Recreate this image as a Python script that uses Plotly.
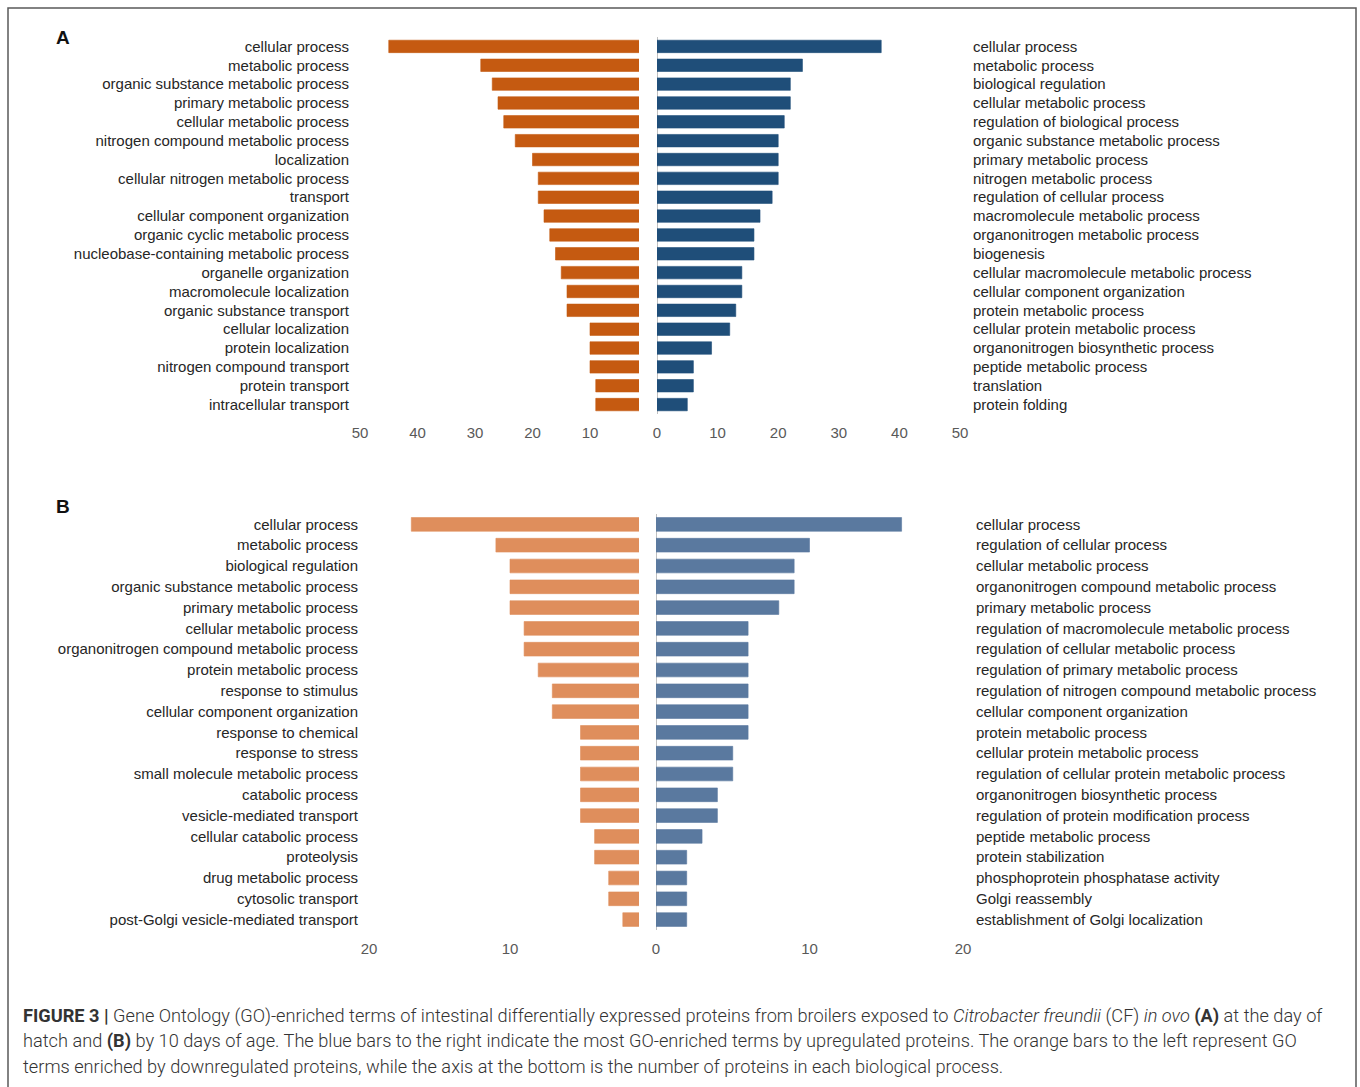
import plotly.graph_objects as go

W, H = 1360, 1087

# ---------------- data ----------------
a_down_terms = ["cellular process", "metabolic process", "organic substance metabolic process",
                "primary metabolic process", "cellular metabolic process",
                "nitrogen compound metabolic process", "localization",
                "cellular nitrogen metabolic process", "transport", "cellular component organization",
                "organic cyclic metabolic process", "nucleobase-containing metabolic process",
                "organelle organization", "macromolecule localization", "organic substance transport",
                "cellular localization", "protein localization", "nitrogen compound transport",
                "protein transport", "intracellular transport"]
a_down_vals = [45, 29, 27, 26, 25, 23, 20, 19, 19, 18, 17, 16, 15, 14, 14, 10, 10, 10, 9, 9]

a_up_terms = ["cellular process", "metabolic process", "biological regulation",
              "cellular metabolic process", "regulation of biological process",
              "organic substance metabolic process", "primary metabolic process",
              "nitrogen metabolic process", "regulation of cellular process",
              "macromolecule metabolic process", "organonitrogen metabolic process", "biogenesis",
              "cellular macromolecule metabolic process", "cellular component organization",
              "protein metabolic process", "cellular protein metabolic process",
              "organonitrogen biosynthetic process", "peptide metabolic process", "translation",
              "protein folding"]
a_up_vals = [37, 24, 22, 22, 21, 20, 20, 20, 19, 17, 16, 16, 14, 14, 13, 12, 9, 6, 6, 5]

b_down_terms = ["cellular process", "metabolic process", "biological regulation",
                "organic substance metabolic process", "primary metabolic process",
                "cellular metabolic process", "organonitrogen compound metabolic process",
                "protein metabolic process", "response to stimulus", "cellular component organization",
                "response to chemical", "response to stress", "small molecule metabolic process",
                "catabolic process", "vesicle-mediated transport", "cellular catabolic process",
                "proteolysis", "drug metabolic process", "cytosolic transport",
                "post-Golgi vesicle-mediated transport"]
b_down_vals = [17, 11, 10, 10, 10, 9, 9, 8, 7, 7, 5, 5, 5, 5, 5, 4, 4, 3, 3, 2]

b_up_terms = ["cellular process", "regulation of cellular process", "cellular metabolic process",
              "organonitrogen compound metabolic process", "primary metabolic process",
              "regulation of macromolecule metabolic process", "regulation of cellular metabolic process",
              "regulation of primary metabolic process", "regulation of nitrogen compound metabolic process",
              "cellular component organization", "protein metabolic process",
              "cellular protein metabolic process", "regulation of cellular protein metabolic process",
              "organonitrogen biosynthetic process", "regulation of protein modification process",
              "peptide metabolic process", "protein stabilization", "phosphoprotein phosphatase activity",
              "Golgi reassembly", "establishment of Golgi localization"]
b_up_vals = [16, 10, 9, 9, 8, 6, 6, 6, 6, 6, 6, 5, 5, 4, 4, 3, 2, 2, 2, 2]

a_left_ticks = [50, 40, 30, 20, 10]
a_right_ticks = [0, 10, 20, 30, 40, 50]
b_left_ticks = [20, 10]
b_right_ticks = [0, 10, 20]

caption_lines = [
    "<b>FIGURE 3 |</b> Gene Ontology (GO)-enriched terms of intestinal differentially expressed proteins "
    "from broilers exposed to <i>Citrobacter freundii</i> (CF) <i>in ovo</i> <b>(A)</b> at the day of",
    "hatch and <b>(B)</b> by 10 days of age. The blue bars to the right indicate the most GO-enriched terms "
    "by upregulated proteins. The orange bars to the left represent GO",
    "terms enriched by downregulated proteins, while the axis at the bottom is the number of proteins "
    "in each biological process.",
]

# ---------------- style ----------------
C_A_DOWN = "#C55A11"
C_A_UP = "#1F4E79"
C_B_DOWN = "#DF8E5C"
C_B_UP = "#5A799F"
FONT = "Liberation Sans, Arial, sans-serif"


def px_x(p):
    return p / W


def px_y(p):
    return 1 - p / H


fig = go.Figure()

panels = [
    (a_down_terms, a_down_vals, C_A_DOWN, "x", "y"),
    (a_up_terms, a_up_vals, C_A_UP, "x2", "y2"),
    (b_down_terms, b_down_vals, C_B_DOWN, "x3", "y3"),
    (b_up_terms, b_up_vals, C_B_UP, "x4", "y4"),
]
for terms, vals, col, xa, ya in panels:
    fig.add_trace(go.Bar(
        y=terms, x=vals, orientation="h", xaxis=xa, yaxis=ya,
        marker=dict(color=col, line=dict(color=col, width=0.6)),
        showlegend=False, hoverinfo="x+y",
    ))

tickfont_x = dict(family=FONT, size=15, color="#595959")
tickfont_y = dict(family=FONT, size=15, color="#262626")

A_Y = [px_y(414), px_y(37)]
B_Y = [px_y(930), px_y(514)]

xcommon = dict(showgrid=False, showline=False, ticks="", tickfont=tickfont_x,
               ticklabelstandoff=8, fixedrange=True, automargin=False)
ycommon = dict(showgrid=False, ticks="", tickfont=tickfont_y, fixedrange=True,
               automargin=False, autorange="reversed", categoryorder="array")

# Left-hand (down-regulated) axes: the zero of the value scale sits just right of the
# plotting area, so the bars stop a little short of it, as in the original figure.
A_L_SCALE = (590 - 360) / 40.0      # px per protein
A_L_RIGHT = 50 - (639 - 360) / A_L_SCALE
B_L_SCALE = (510 - 369) / 10.0
B_L_RIGHT = 20 - (639 - 369) / B_L_SCALE

layout = dict(
    template="none",
    width=W, height=H, autosize=False,
    margin=dict(l=0, r=0, t=0, b=0, pad=0, autoexpand=False),
    paper_bgcolor="white", plot_bgcolor="rgba(0,0,0,0)",
    bargap=0.34,
    xaxis=dict(domain=[px_x(360), px_x(639)], range=[50, A_L_RIGHT], anchor="y",
               tickvals=a_left_ticks, zeroline=False, **xcommon),
    xaxis2=dict(domain=[px_x(657), px_x(960)], range=[0, 50], anchor="y2",
                tickvals=a_right_ticks, zeroline=True, zerolinecolor="#BFBFBF",
                zerolinewidth=1, **xcommon),
    xaxis3=dict(domain=[px_x(369), px_x(639)], range=[20, B_L_RIGHT], anchor="y3",
                tickvals=b_left_ticks, zeroline=False, **xcommon),
    xaxis4=dict(domain=[px_x(656), px_x(963)], range=[0, 20], anchor="y4",
                tickvals=b_right_ticks, zeroline=True, zerolinecolor="#BFBFBF",
                zerolinewidth=1, **xcommon),
    yaxis=dict(domain=A_Y, anchor="x", categoryarray=a_down_terms,
               side="left", ticklabelstandoff=10, **ycommon),
    yaxis2=dict(domain=A_Y, anchor="x2", categoryarray=a_up_terms,
                side="right", ticklabelstandoff=12, **ycommon),
    yaxis3=dict(domain=B_Y, anchor="x3", categoryarray=b_down_terms,
                side="left", ticklabelstandoff=10, **ycommon),
    yaxis4=dict(domain=B_Y, anchor="x4", categoryarray=b_up_terms,
                side="right", ticklabelstandoff=12, **ycommon),
)
fig.update_layout(**layout)

annotations = [
    dict(text="<b>A</b>", x=px_x(63), y=px_y(37), xref="paper", yref="paper",
         xanchor="center", yanchor="middle", showarrow=False,
         font=dict(family=FONT, size=19, color="#111111")),
    dict(text="<b>B</b>", x=px_x(63), y=px_y(506), xref="paper", yref="paper",
         xanchor="center", yanchor="middle", showarrow=False,
         font=dict(family=FONT, size=19, color="#111111")),
]
for i, line in enumerate(caption_lines):
    annotations.append(dict(
        text=line, x=px_x(21), y=px_y(1016 + 25 * i), xref="paper", yref="paper",
        xanchor="left", yanchor="middle", showarrow=False, align="left",
        font=dict(family="Roboto, Liberation Sans, sans-serif", size=18.2, color="#333333",
                  weight=300),
    ))
fig.update_layout(annotations=annotations)

# outer frame (bottom edge lies below the visible page)
fig.add_shape(type="rect", xref="paper", yref="paper",
              x0=px_x(8), x1=px_x(1356), y0=-0.05, y1=px_y(8),
              line=dict(color="#5a5a5a", width=1.5), fillcolor="rgba(0,0,0,0)", layer="below")

fig.write_html("out.html", config={"displayModeBar": False})
